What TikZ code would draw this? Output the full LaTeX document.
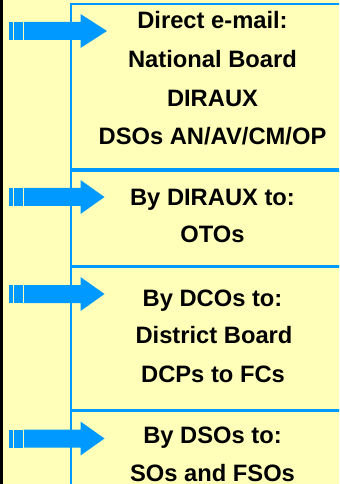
\documentclass[tikz,border=0pt]{standalone}
\usepackage{fontspec}
\setmainfont{Liberation Sans}
\definecolor{bgyellow}{RGB}{255,255,185}
\definecolor{arrowblue}{RGB}{0,153,255}
\tikzset{
  box/.style={draw=arrowblue, line width=1.5pt, fill=bgyellow, rectangle, anchor=north west, outer sep=0pt, inner sep=0pt, minimum width=216.75pt},
  txt/.style={anchor=base, inner sep=0pt, font=\fontsize{17.8}{20}\selectfont\bfseries},
  arrowfill/.style={fill=arrowblue}
}
\begin{document}
\begin{tikzpicture}[x=0.75pt,y=-0.75pt]
\useasboundingbox (0,0) rectangle (339,484);
\clip (0,0) rectangle (339,484);
\fill[bgyellow] (0,0) rectangle (339,484);
\fill[black] (0,0) rectangle (3,484);
% boxes
\node[box, minimum height=124.125pt] (b1) at (71,4) {};
\node[box, minimum height=70.875pt] (b2) at (71,171) {};
\node[box, minimum height=106.875pt] (b3) at (71,267) {};
\node[box, minimum height=66.75pt] (b4) at (71,411) {};
% texts
\node[txt] (t1a) at (212.5,29) {Direct e-mail:};
\node[txt] (t1b) at (212.5,68) {National Board};
\node[txt] (t1c) at (212.5,107) {DIRAUX};
\node[txt] (t1d) at (212.5,145) {DSOs AN/AV/CM/OP};
\node[txt] (t2a) at (212.5,206) {By DIRAUX to:};
\node[txt] (t2b) at (212.5,243) {OTOs};
\node[txt] (t3a) at (212.5,306) {By DCOs to:};
\node[txt] (t3b) at (214,343) {District Board};
\node[txt] (t3c) at (213,382) {DCPs to FCs};
\node[txt] (t4a) at (212.5,443) {By DSOs to:};
\node[txt] (t4b) at (212.5,481) {SOs and FSOs};
% arrows
\foreach \c/\tip in {31/107,197/104.5,294/104.5,438.5/104.5}{
  \fill[arrowfill] (24,{\c-9}) -- (80.5,{\c-9}) -- (80.5,{\c-17}) -- (\tip,\c)
     -- (80.5,{\c+17}) -- (80.5,{\c+9}) -- (24,{\c+9}) -- cycle;
  \fill[arrowfill] (9,{\c-9}) rectangle (12.7,{\c+9});
  \fill[arrowfill] (14,{\c-9}) rectangle (22.7,{\c+9});
}
\end{tikzpicture}
\end{document}
